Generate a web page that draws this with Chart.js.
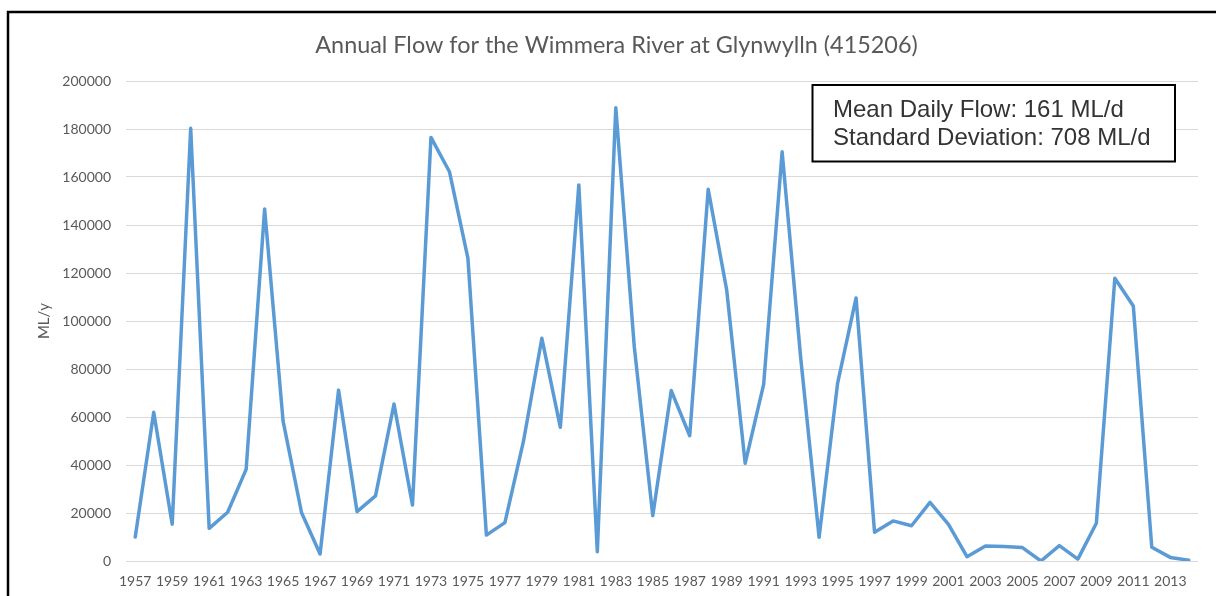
<!DOCTYPE html>
<html>
<head>
<meta charset="utf-8">
<script src="https://cdn.jsdelivr.net/npm/chart.js@4/dist/chart.umd.min.js"></script>
<style>
  html, body { margin: 0; padding: 0; background: #ffffff; }
  #wrap { width: 1216px; height: 596px; position: relative; }
</style>
</head>
<body>
<div id="wrap"><canvas id="c" width="1216" height="596"></canvas></div>
<script>
// ---- data ----
const chartTitle = "Annual Flow for the Wimmera River at Glynwylln (415206)";
const yAxisTitle = "ML/y";
const noteLines = ["Mean Daily Flow: 161 ML/d", "Standard Deviation: 708 ML/d"];
const years = ["1957","1958","1959","1960","1961","1962","1963","1964","1965","1966",
  "1967","1968","1969","1970","1971","1972","1973","1974","1975","1976",
  "1977","1978","1979","1980","1981","1982","1983","1984","1985","1986",
  "1987","1988","1989","1990","1991","1992","1993","1994","1995","1996",
  "1997","1998","1999","2000","2001","2002","2003","2004","2005","2006",
  "2007","2008","2009","2010","2011","2012","2013","2014"];
const annualFlow = [10000, 62000, 15300, 180300, 13600, 20300, 38200, 146700, 58300, 20100,
  2900, 71200, 20600, 27100, 65400, 23300, 176500, 162200, 126100, 10800,
  16000, 49700, 92800, 55700, 156700, 3900, 188900, 89300, 18900, 71000,
  52200, 154900, 112900, 40700, 73600, 170500, 85000, 9900, 74000, 109600,
  12000, 16700, 14700, 24400, 15300, 1800, 6250, 6000, 5600, 0,
  6400, 800, 15700, 117800, 106250, 5700, 1500, 300];
const yTicks = { min: 0, max: 200000, step: 20000 };

// ---- decorations plugin: frame, title, note box ----
const decor = {
  id: 'decor',
  afterDraw(chart) {
    const ctx = chart.ctx;
    ctx.save();
    // outer frame
    ctx.strokeStyle = '#000000';
    ctx.lineWidth = 2.5;
    ctx.beginPath();
    ctx.moveTo(8, 596);
    ctx.lineTo(8, 12);
    ctx.lineTo(1216, 12);
    ctx.stroke();
    // title
    ctx.fillStyle = '#595959';
    ctx.font = '23.4px Lato';
    ctx.textAlign = 'center';
    ctx.textBaseline = 'middle';
    ctx.fillText(chartTitle, 616.5, 45);
    // note box
    ctx.fillStyle = '#ffffff';
    ctx.fillRect(812.5, 85, 362.5, 76.5);
    ctx.strokeStyle = '#000000';
    ctx.lineWidth = 2;
    ctx.strokeRect(812.5, 85, 362.5, 76.5);
    ctx.fillStyle = '#333333';
    ctx.font = '24px "Liberation Sans", Arial, sans-serif';
    ctx.textAlign = 'left';
    ctx.textBaseline = 'middle';
    ctx.fillText(noteLines[0], 833, 110);
    ctx.fillText(noteLines[1], 833, 138);
    ctx.restore();
  }
};

new Chart(document.getElementById('c'), {
  type: 'line',
  data: {
    labels: years,
    datasets: [{
      label: 'Annual Flow',
      data: annualFlow,
      borderColor: '#5B9BD5',
      backgroundColor: '#5B9BD5',
      borderWidth: 3.5,
      pointRadius: 0,
      pointHoverRadius: 0,
      tension: 0,
      borderJoinStyle: 'round',
      borderCapStyle: 'round',
      fill: false
    }]
  },
  options: {
    responsive: false,
    animation: false,
    events: [],
    layout: { padding: { left: 10, right: 18, top: 81, bottom: 0 } },
    plugins: {
      legend: { display: false },
      title: { display: false },
      tooltip: { enabled: false }
    },
    scales: {
      x: {
        type: 'category',
        offset: true,
        grid: { display: false, drawTicks: false },
        border: { display: false },
        ticks: {
          autoSkip: false,
          maxRotation: 0,
          minRotation: 0,
          padding: 12,
          color: '#595959',
          font: { family: 'Lato', size: 14 },
          callback: function (v, i) { return i % 2 === 0 ? years[i] : ''; }
        },
        afterFit(scale) { scale.height = 35; }
      },
      y: {
        min: yTicks.min,
        max: yTicks.max,
        grid: { color: '#D9D9D9', lineWidth: 1, drawTicks: false },
        border: { display: false },
        ticks: {
          stepSize: yTicks.step,
          padding: 15,
          color: '#595959',
          font: { family: 'Lato', size: 14 },
          callback: function (v) { return String(v); }
        },
        title: {
          display: true,
          text: yAxisTitle,
          color: '#595959',
          font: { family: 'Lato', size: 15 },
          padding: { top: 25, bottom: 0 }
        },
        afterFit(scale) { scale.width = 116; }
      }
    }
  },
  plugins: [decor]
});
</script>
</body>
</html>
